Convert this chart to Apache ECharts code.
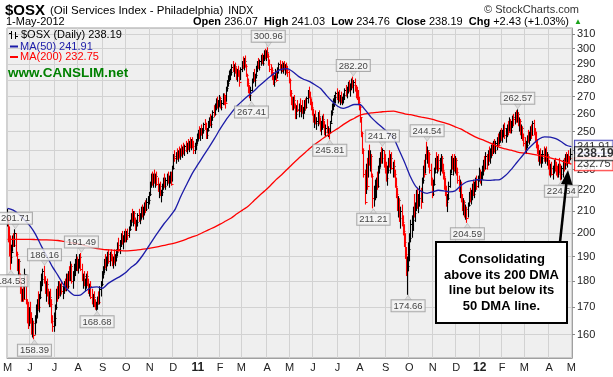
<!DOCTYPE html>
<html>
<head>
<meta charset="utf-8">
<script src="https://cdn.jsdelivr.net/npm/echarts@6.0.0/dist/echarts.min.js"></script>
<style>
  html, body { margin: 0; padding: 0; background: #fff; }
  #chart { width: 613px; height: 377px; }
</style>
</head>
<body>
<div id="chart"></div>
<script>
// NYSE closed days inside the window (weekends are skipped anyway)
const holidays = [
  "2010-05-31", "2010-07-05", "2010-09-06", "2010-11-25", "2010-12-24",
  "2011-01-17", "2011-02-21", "2011-04-22", "2011-05-30", "2011-07-04",
  "2011-09-05", "2011-11-24", "2011-12-26",
  "2012-01-02", "2012-01-16", "2012-02-20", "2012-04-06"
];

// daily bars, 3-May-2010 .. 1-May-2012
const highs = [
  211, 207, 203, 199, 195, 199, 200, 201.71, 200, 192,           // 0
  189, 189, 183, 179, 177, 178, 185, 182, 173, 172,
  170, 172, 168, 166, 165, 167, 171, 173, 176, 175,              // 20
  180, 183, 185, 186.16, 182, 180, 181, 177, 176, 177,
  173, 167, 168, 171, 177, 178, 180, 180, 179, 180,              // 40
  178, 180, 181, 183, 183, 184, 186, 188, 187, 184,
  187, 189, 191, 190, 189, 191, 191.49, 187, 183, 184,           // 60
  181, 183, 184, 181, 179, 180, 177, 175, 176, 173,
  172, 174, 176, 178, 180, 184, 186, 189, 191, 190,              // 80
  192, 193, 192, 193, 191, 190, 193, 191, 193, 196,
  198, 197, 200, 201, 199, 201, 202, 201, 202, 203,              // 100
  206, 209, 211, 210, 210, 207, 206, 209, 211, 209,
  212, 213, 212, 214, 215, 216, 217, 219, 224, 228,              // 120
  229, 228, 230, 228, 229, 226, 223, 224, 220, 223,
  226, 228, 226, 228, 229, 227, 229, 229, 232, 238,              // 140
  240, 239, 241, 240, 242, 241, 243, 242, 244, 243,
  245, 244, 246, 245, 247, 246, 247, 245, 244, 246,              // 160
  249, 251, 253, 252, 254, 252, 255, 257, 255, 252,
  256, 258, 260, 259, 262, 265, 266, 269, 270, 268,              // 180
  271, 270, 268, 272, 272, 271, 276, 280, 283, 286,
  287, 290, 292, 290, 291, 288, 287, 289, 286, 288,              // 200
  292, 295, 294, 295.6, 290, 284, 281, 277, 276, 281,
  285, 287, 284, 289, 292, 294, 293, 296, 297, 296,              // 220
  299, 300, 299, 300.96, 297, 293, 290, 288, 285, 283,
  287, 286, 288, 291, 292.5, 290, 292, 291, 292, 290,            // 240
  291, 289, 286, 281, 274, 270, 270, 271, 266, 265,
  268, 266, 269, 265, 268, 264, 268, 269, 270, 274,              // 260
  276, 273, 269, 267, 263, 260, 262, 258, 261, 262,
  258, 256, 259, 260, 256, 254, 257, 253, 252, 256,              // 280
  262, 266, 269, 271, 273, 275, 273, 274, 271, 273,
  270, 272, 275, 277, 276, 279, 280, 278, 281, 282.2,            // 300
  280, 281, 277, 276, 274, 270, 265, 258, 250, 241,
  230, 233, 236, 240, 243, 240, 238, 228, 222, 225,              // 320
  226, 229, 232, 236, 239, 241.78, 241, 240, 238, 234,
  232, 236, 240, 238, 239, 234, 235, 230, 226, 221,              // 340
  217, 216, 212, 213, 208, 204, 200, 194, 190, 196,
  200, 206, 208, 212, 218, 214, 220, 221, 218, 222,              // 360
  221, 226, 232, 235, 238, 244.54, 242, 240, 239, 233,
  226, 225, 231, 236, 239, 237, 238, 236, 238, 237,              // 380
  233, 229, 226, 222, 218, 224, 230, 237, 238, 236,
  238, 237, 236, 231, 227, 225, 224, 218, 216, 215,              // 400
  213, 212, 214, 219, 221, 220, 223, 225, 224, 226,
  227, 227, 231, 230, 229, 232, 235, 237, 239, 238,              // 420
  240, 242, 241, 243, 244, 245, 246, 245, 247, 249,
  250, 251, 252, 251, 254, 255, 252, 254, 256, 258,              // 440
  257, 256, 259, 260, 261, 262, 262.57, 261, 258, 257,
  254, 253, 249, 247, 245, 248, 251, 250, 253, 254,              // 460
  256, 256.6, 252, 250, 246, 243, 240, 241, 238, 240,
  242, 241, 242, 239, 238, 235, 233, 234, 232, 235,              // 480
  236, 234, 232, 233, 236, 233, 232, 235, 236, 238,
  239, 238, 240, 237, 241.03                                     // 500
];
const lows = [
  203, 196, 190, 184.53, 187, 192, 194, 194, 190, 184,
  182, 179, 175, 172, 172, 172, 173, 171, 164, 162,
  163, 164, 160, 159, 158.39, 160, 164, 166, 169, 168,
  173, 176, 178, 179, 175, 172, 174, 171, 170, 170,
  164, 161, 161, 163, 169, 172, 173, 174, 174, 175,
  173, 175, 176, 176, 177, 177, 180, 180, 179, 177,
  180, 182, 184, 184, 183, 185, 184, 180, 177, 178,
  176, 177, 178, 175, 174, 173, 171, 170, 170, 169,
  168.68, 169, 171, 171, 174, 178, 181, 183, 185, 184,
  186, 187, 186, 188, 186, 185, 187, 186, 188, 190,
  192, 191, 194, 195, 193, 196, 196, 196, 197, 198,
  201, 203, 205, 203, 204, 201, 201, 203, 205, 204,
  206, 207, 206, 208, 209, 210, 211, 213, 217, 221,
  222, 221, 223, 221, 222, 219, 216, 217, 214, 217,
  220, 221, 220, 222, 223, 221, 223, 222, 224, 230,
  234, 233, 235, 234, 236, 235, 237, 236, 238, 237,
  239, 238, 240, 239, 241, 240, 241, 238, 238, 240,
  243, 245, 246, 245, 248, 246, 249, 251, 246, 246,
  250, 252, 253, 252, 256, 258, 259, 262, 263, 261,
  264, 263, 262, 265, 265, 263, 267, 273, 276, 279,
  280, 283, 285, 282, 284, 280, 279, 282, 276, 280,
  285, 287, 286, 288, 282, 276, 272, 269, 267.41, 273,
  278, 279, 276, 281, 285, 287, 286, 289, 290, 289,
  292, 293, 292, 294, 289, 285, 283, 280, 277, 276,
  280, 279, 281, 284, 286, 284, 285, 284, 286, 283,
  284, 282, 278, 270, 265, 262, 262, 263, 257, 257,
  261, 258, 261, 258, 260, 257, 260, 262, 263, 266,
  269, 265, 262, 259, 255, 252, 254, 251, 253, 254,
  250, 248, 251, 252, 248, 247, 249, 247, 245.81, 249,
  255, 259, 262, 264, 266, 268, 266, 267, 265, 266,
  265, 266, 268, 270, 269, 272, 273, 270, 274, 275,
  272, 273, 269, 268, 265, 262, 255, 247, 238, 226,
  213, 218, 220, 226, 232, 229, 226, 211.21, 212, 215,
  216, 220, 221, 228, 231, 233, 233, 231, 228, 224,
  222, 228, 231, 228, 230, 226, 226, 221, 216, 210,
  207, 205, 202, 203, 199, 194, 189, 182, 174.66, 184,
  188, 196, 198, 201, 207, 205, 210, 211, 209, 212,
  211, 214, 223, 226, 228, 235, 233, 231, 228, 222,
  216, 217, 222, 228, 230, 228, 229, 227, 229, 228,
  225, 220, 217, 212, 209.5, 215, 221, 228, 230, 227,
  229, 228, 227, 223, 219, 216, 214, 210, 208, 207,
  206, 204.59, 207, 212, 214, 213, 215, 217, 216, 219,
  220, 221, 224, 223, 222, 225, 227, 229, 230, 230,
  232, 234, 233, 236, 237, 238, 239, 238, 240, 242,
  243, 244, 245, 244, 247, 246, 244, 247, 248, 250,
  249, 249, 252, 253, 254, 255, 255, 253, 250, 248,
  246, 245, 242, 239, 238, 241, 244, 243, 245, 246,
  248, 248, 244, 241, 238, 234, 232, 233, 231, 233,
  234, 233, 234, 232, 230, 227, 226, 227, 225, 228,
  229, 227, 226, 226, 228, 224.64, 225, 226, 229, 230,
  232, 231, 233, 233, 234.76
];
const closes = [
  205, 198, 194, 190, 192, 198, 195, 200, 191, 186,
  188, 180, 177, 174, 176, 173, 183, 172, 170, 164,
  168, 165, 162, 164, 160, 166, 169, 172, 170, 174,
  179, 181, 184, 180, 176, 179, 175, 172, 174, 171,
  165, 163, 166, 170, 176, 174, 178, 175, 178, 176,
  177, 179, 177, 182, 178, 183, 181, 186, 180, 183,
  185, 188, 189, 186, 188, 190, 185, 181, 182, 179,
  180, 182, 179, 176, 178, 174, 172, 174, 171, 170,
  171, 173, 172, 177, 179, 183, 185, 188, 186, 189,
  191, 188, 190, 189, 187, 189, 188, 190, 192, 195,
  193, 196, 199, 196, 198, 200, 198, 200, 199, 202,
  205, 208, 206, 209, 205, 203, 205, 208, 206, 208,
  211, 208, 211, 213, 211, 214, 215, 218, 223, 226,
  224, 227, 225, 227, 223, 220, 222, 218, 219, 222,
  225, 222, 225, 227, 224, 226, 228, 223, 231, 237,
  236, 238, 236, 239, 237, 240, 238, 241, 240, 242,
  241, 243, 242, 244, 243, 245, 242, 240, 243, 245,
  247, 250, 248, 251, 249, 251, 254, 252, 248, 251,
  255, 256, 254, 258, 261, 260, 265, 268, 264, 267,
  269, 264, 266, 270, 267, 266, 275, 278, 281, 283,
  285, 288, 286, 289, 285, 283, 286, 284, 279, 287,
  290, 288, 292, 289, 283, 278, 274, 271, 274, 280,
  283, 280, 283, 288, 290, 288, 292, 295, 291, 295,
  297, 296, 298, 295, 290, 287, 286, 281, 279, 282,
  285, 280, 287, 290, 287, 289, 288, 290, 287, 288,
  286, 285, 280, 272, 267, 266, 268, 264, 260, 263,
  262, 265, 262, 263, 261, 262, 267, 264, 269, 272,
  270, 266, 264, 260, 257, 258, 255, 256, 259, 255,
  252, 254, 257, 253, 250, 252, 250, 251, 250, 255,
  261, 265, 267, 270, 272, 270, 271, 268, 269, 267,
  269, 271, 274, 272, 275, 277, 274, 277, 280, 277,
  279, 274, 272, 270, 267, 264, 258, 249, 240, 228,
  214, 231, 222, 238, 234, 237, 227, 216, 219, 223,
  224, 222, 231, 234, 237, 236, 240, 233, 230, 226,
  230, 235, 233, 236, 231, 232, 228, 222, 218, 213,
  215, 207, 210, 205, 201, 196, 191, 184, 186, 193,
  198, 204, 206, 210, 209, 212, 218, 213, 216, 220,
  214, 225, 230, 228, 237, 236, 240, 238, 230, 224,
  218, 223, 229, 234, 232, 235, 231, 234, 236, 230,
  227, 222, 219, 214, 216, 222, 228, 235, 232, 234,
  231, 235, 229, 225, 221, 223, 216, 212, 214, 209,
  211, 207, 213, 217, 216, 219, 221, 218, 223, 225,
  222, 226, 229, 226, 228, 230, 233, 231, 237, 233,
  238, 236, 240, 241, 239, 243, 240, 244, 246, 243,
  248, 250, 247, 249, 252, 248, 250, 253, 250, 256,
  251, 255, 258, 257, 259, 256, 260, 254, 256, 250,
  252, 247, 244, 240, 243, 247, 246, 249, 251, 248,
  255, 250, 246, 243, 240, 236, 238, 234, 236, 238,
  236, 239, 235, 237, 232, 229, 231, 228, 230, 233,
  231, 229, 228, 232, 230, 228, 231, 233, 231, 236,
  234, 237, 236, 235.76, 238.19
];

// moving averages read every 5th trading day (last one is 1-May-2012)
const ma50 = [
  211.2, 210.4, 208.5, 206, 203.2, 199.5, 194.6, 190.2, 185.8, 182.3,
  178.6, 176, 174.4, 174.5, 176.2, 177.5, 177.7, 177.2, 179.1, 180.5,
  181.7, 183.2, 185.4, 187.1, 190, 193.5, 197.2, 200.8, 204.3, 207.4,
  211, 217, 222.5, 228, 232.5, 237, 241.5, 246.3, 251.5, 256.3,
  260.5, 264.5, 267.6, 270.5, 273.3, 276.5, 279.5, 282.4, 285, 286.8,
  287.2, 285.2, 282.3, 280.4, 279.1, 277, 274.8, 270.8, 267.3, 264.4,
  263.1, 264.2, 265.4, 265.4, 262, 258, 255, 252.3, 249.5, 246.6,
  240, 233.5, 226.5, 221.5, 219.2, 218.3, 219, 219.8, 219.5, 219,
  219.5, 222, 223.8, 224.5, 225, 224.8, 224.6, 224.8, 225, 227,
  230, 233.5, 237, 240.5, 243.5, 246, 247.2, 247, 246.2, 244.5,
  242.5, 241.91
];
const ma200 = [
  197.3, 197.3, 197.3, 197.3, 197.3, 197.2, 197.1, 197.1, 197, 196.8,
  196.4, 196, 195.6, 195.1, 194.5, 193.9, 193.3, 193, 192.8, 192.6,
  192.5, 192.4, 192.5, 192.7, 193, 193.3, 193.7, 194.2, 194.7, 195.2,
  195.8, 196.5, 197.4, 198.4, 199.2, 200.4, 201.6, 202.7, 204, 205.4,
  206.8, 208.7, 210.4, 212.2, 214.7, 217.2, 219.5, 222.1, 225, 227.4,
  230.2, 233, 235.7, 238.3, 240.9, 243.3, 245.5, 247.6, 249.8, 251.7,
  253.9, 255.9, 257.5, 259.3, 260, 260.5, 260.8, 261.2, 261.4, 261.5,
  260.8, 260, 259.5, 258.8, 258.1, 257.5, 256.8, 255.8, 255, 254,
  252.7, 251.5, 249.8, 248.1, 246.6, 245.5, 244.2, 242.9, 241.5, 240.7,
  240, 239.2, 238.6, 238.3, 237.8, 237.3, 236.8, 236, 235.3, 234.5,
  233.5, 232.75
];

const priceTicks = [160, 170, 180, 190, 200, 210, 220, 230, 240, 250, 260, 270, 280, 290, 300, 310];
const peakDays = [7, 33, 66, 233, 309, 335, 375, 456];
const troughDays = [3, 24, 80, 218, 288, 327, 358, 411, 495];
const monthLetters = "JFMAMJJASOND";

// trading days
const allDays = [];
for (let t = Date.UTC(2010, 4, 3); t <= Date.UTC(2012, 4, 1); t += 864e5) {
  const d = new Date(t);
  const wd = d.getUTCDay();
  const s = d.toISOString().slice(0, 10);
  if (wd === 0 || wd === 6 || holidays.includes(s)) continue;
  allDays.push(s);
}
const n = closes.length;
const days = allDays.slice(allDays.length - n);
const monthStart = days.map((d, i) => i === 0 || d.slice(5, 7) !== days[i - 1].slice(5, 7));

const bars = closes.map((c, i) => [i, highs[i], lows[i], c, i > 0 && c < closes[i - 1] ? 1 : 0]);
const maDays = ma50.map((_, k) => Math.min(k * 5, n - 1));
const last = n - 1;

const chart = echarts.init(document.getElementById("chart"), null, { renderer: "canvas" });

const font = "Liberation Sans, Arial, sans-serif";
const tagLabel = {
  show: true, fontSize: 9.5, fontFamily: font, color: "#111",
  backgroundColor: "#f6f6f6", borderColor: "#999", borderWidth: 1,
  padding: [1, 2, 0, 2], lineHeight: 10,
  formatter: (p) => p.value[1].toFixed(2)
};

const option = {
  animation: false,
  backgroundColor: "#fff",
  textStyle: { fontFamily: font },
  title: [
    {
      text: "{a|$OSX} {b|(Oil Services Index - Philadelphia)} {c|INDX}",
      left: 5, top: 2, padding: 0,
      textStyle: {
        rich: {
          a: { fontSize: 15, fontWeight: "bold", color: "#000", fontFamily: font },
          b: { fontSize: 11.5, fontWeight: "normal", color: "#000", fontFamily: font },
          c: { fontSize: 10.5, fontWeight: "normal", color: "#000", fontFamily: font }
        }
      }
    },
    {
      text: "1-May-2012", left: 6, top: 16, padding: 0,
      textStyle: { fontSize: 11, fontWeight: "normal", color: "#000" }
    },
    {
      text: "{l|Open} 236.07  {l|High} 241.03  {l|Low} 234.76  {l|Close} 238.19  {l|Chg} +2.43 (+1.03%)",
      right: 44, top: 16, padding: 0,
      textStyle: {
        fontSize: 11, fontWeight: "normal", color: "#000",
        rich: { l: { fontSize: 11, fontWeight: "bold", color: "#000", fontFamily: font } }
      }
    },
    {
      text: "▲", right: 31, top: 18, padding: 0,
      textStyle: { fontSize: 8, color: "#1aa31a", fontWeight: "normal" }
    },
    {
      text: "© StockCharts.com", right: 34, top: 4, padding: 0,
      textStyle: { fontSize: 11, fontWeight: "normal", color: "#333" }
    }
  ],
  grid: {
    left: 7, right: 41, top: 28, bottom: 19,
    show: true, backgroundColor: "#efefef", borderColor: "#a0a0a0", borderWidth: 1
  },
  xAxis: {
    type: "category",
    data: days,
    boundaryGap: true,
    axisLine: { show: true, lineStyle: { color: "#a0a0a0" } },
    axisTick: { show: false },
    axisLabel: {
      interval: (i) => monthStart[i],
      color: "#222", fontSize: 11, margin: 4,
      formatter: (v) => {
        const m = +v.slice(5, 7);
        return m === 1 ? "{yr|" + v.slice(2, 4) + "}" : monthLetters[m - 1];
      },
      rich: { yr: { fontWeight: "bold", fontSize: 12, color: "#222", fontFamily: font } }
    },
    splitLine: { show: true, interval: (i) => monthStart[i], lineStyle: { color: "#d2d2d2", width: 1 } }
  },
  yAxis: {
    type: "log",
    position: "right",
    min: 152,
    max: 314,
    axisLine: { show: true, lineStyle: { color: "#a0a0a0" } },
    axisTick: { show: true, customValues: priceTicks, length: 3, lineStyle: { color: "#888" } },
    axisLabel: { customValues: priceTicks, color: "#222", fontSize: 11, margin: 5 },
    splitLine: { show: true, lineStyle: { color: "#d2d2d2", width: 1 } }
  },
  series: [
    {
      name: "$OSX",
      type: "custom",
      data: bars,
      encode: { x: 0, y: [1, 2] },
      clip: true,
      z: 2,
      renderItem: (params, api) => {
        const i = api.value(0);
        const top = api.coord([i, api.value(1)]);
        const bot = api.coord([i, api.value(2)]);
        const cls = api.coord([i, api.value(3)]);
        const x = Math.round(top[0]) - 0.5;
        const y = Math.round(cls[1]) + 0.5;
        const color = api.value(4) ? "#ff0000" : "#000000";
        return {
          type: "group",
          children: [
            { type: "line", shape: { x1: x, y1: top[1], x2: x, y2: bot[1] }, style: { stroke: color, lineWidth: 1.1 } },
            { type: "line", shape: { x1: x, y1: y, x2: x + 2, y2: y }, style: { stroke: color, lineWidth: 1 } }
          ]
        };
      }
    },
    {
      name: "MA(200)",
      type: "line",
      data: maDays.map((d, k) => [d, ma200[k]]),
      showSymbol: false,
      smooth: 0.2,
      lineStyle: { color: "#ff0000", width: 1.3 },
      z: 3
    },
    {
      name: "MA(50)",
      type: "line",
      data: maDays.map((d, k) => [d, ma50[k]]),
      showSymbol: false,
      smooth: 0.2,
      lineStyle: { color: "#1c1ca8", width: 1.3 },
      z: 3
    },
    {
      // pointers under the peak tags
      type: "scatter",
      data: peakDays.map((i) => [i, highs[i]]),
      symbol: "triangle", symbolRotate: 180, symbolSize: [7, 5], symbolOffset: [0, -3],
      itemStyle: { color: "#d8d8d8", borderColor: "#999", borderWidth: 0.5 },
      silent: true, z: 4
    },
    {
      type: "scatter",
      data: peakDays.map((i) => [i, highs[i]]),
      symbolSize: 1, itemStyle: { color: "rgba(0,0,0,0)" },
      label: Object.assign({}, tagLabel, { position: "top", distance: 5 }),
      silent: true, z: 5
    },
    {
      type: "scatter",
      data: troughDays.map((i) => [i, lows[i]]),
      symbol: "triangle", symbolSize: [7, 5], symbolOffset: [0, 3],
      itemStyle: { color: "#d8d8d8", borderColor: "#999", borderWidth: 0.5 },
      silent: true, z: 4
    },
    {
      type: "scatter",
      data: troughDays.map((i) => [i, lows[i]]),
      symbolSize: 1, itemStyle: { color: "rgba(0,0,0,0)" },
      label: Object.assign({}, tagLabel, { position: "bottom", distance: 5 }),
      silent: true, z: 5
    },
    {
      // last values at the right edge
      type: "scatter",
      symbolSize: 1,
      itemStyle: { color: "rgba(0,0,0,0)" },
      silent: true,
      z: 6,
      label: {
        show: true, position: "right", distance: 3,
        fontSize: 11, fontFamily: font, color: "#000",
        backgroundColor: "#fff", borderWidth: 1, padding: [1, 2, 0, 2],
        formatter: (p) => p.value[1].toFixed(2)
      },
      data: [
        { value: [last, ma50[ma50.length - 1]], label: { borderColor: "#1c1ca8" } },
        { value: [last, ma200[ma200.length - 1]], label: { borderColor: "#ff0000" } },
        { value: [last, closes[last]], label: { borderColor: "#000", fontWeight: "bold", fontSize: 12 } }
      ]
    }
  ],
  graphic: [
    // legend block inside the plot
    { type: "line", shape: { x1: 11.5, y1: 31, x2: 11.5, y2: 39 }, style: { stroke: "#000", lineWidth: 1 }, z: 50 },
    { type: "line", shape: { x1: 9, y1: 33.5, x2: 11, y2: 33.5 }, style: { stroke: "#000", lineWidth: 1 }, z: 50 },
    { type: "line", shape: { x1: 15.5, y1: 32, x2: 15.5, y2: 39 }, style: { stroke: "#000", lineWidth: 1 }, z: 50 },
    { type: "line", shape: { x1: 16, y1: 36.5, x2: 18, y2: 36.5 }, style: { stroke: "#000", lineWidth: 1 }, z: 50 },
    { type: "text", x: 21, y: 35, style: { text: "$OSX (Daily) 238.19", font: "11px " + font, fill: "#000", verticalAlign: "middle" }, z: 50 },
    { type: "rect", shape: { x: 10, y: 45.5, width: 8, height: 2 }, style: { fill: "#1c1ca8" }, z: 50 },
    { type: "text", x: 20, y: 46.5, style: { text: "MA(50) 241.91", font: "11px " + font, fill: "#1c1ca8", verticalAlign: "middle" }, z: 50 },
    { type: "rect", shape: { x: 10, y: 56, width: 8, height: 2 }, style: { fill: "#ff0000" }, z: 50 },
    { type: "text", x: 20, y: 57, style: { text: "MA(200) 232.75", font: "11px " + font, fill: "#ff0000", verticalAlign: "middle" }, z: 50 },
    { type: "text", x: 8, y: 73, style: { text: "www.CANSLIM.net", font: "bold 13.5px " + font, fill: "#008000", verticalAlign: "middle" }, z: 50 },
    // annotation box and arrow
    { type: "rect", shape: { x: 436, y: 242, width: 131, height: 81 }, style: { fill: "#fff", stroke: "#000", lineWidth: 2 }, z: 60 },
    {
      type: "text", x: 501.5, y: 283,
      style: {
        text: "Consolidating\nabove its 200 DMA\nline but below its\n50 DMA line.",
        font: "bold 13px " + font, fill: "#000", align: "center", verticalAlign: "middle", lineHeight: 15.5
      },
      z: 61
    },
    { type: "line", shape: { x1: 560, y1: 242, x2: 566.3, y2: 184 }, style: { stroke: "#000", lineWidth: 2.5 }, z: 60 },
    { type: "polygon", shape: { points: [[568, 170], [572.5, 185], [561, 184]] }, style: { fill: "#000" }, z: 60 }
  ]
};

chart.setOption(option);
</script>
</body>
</html>
